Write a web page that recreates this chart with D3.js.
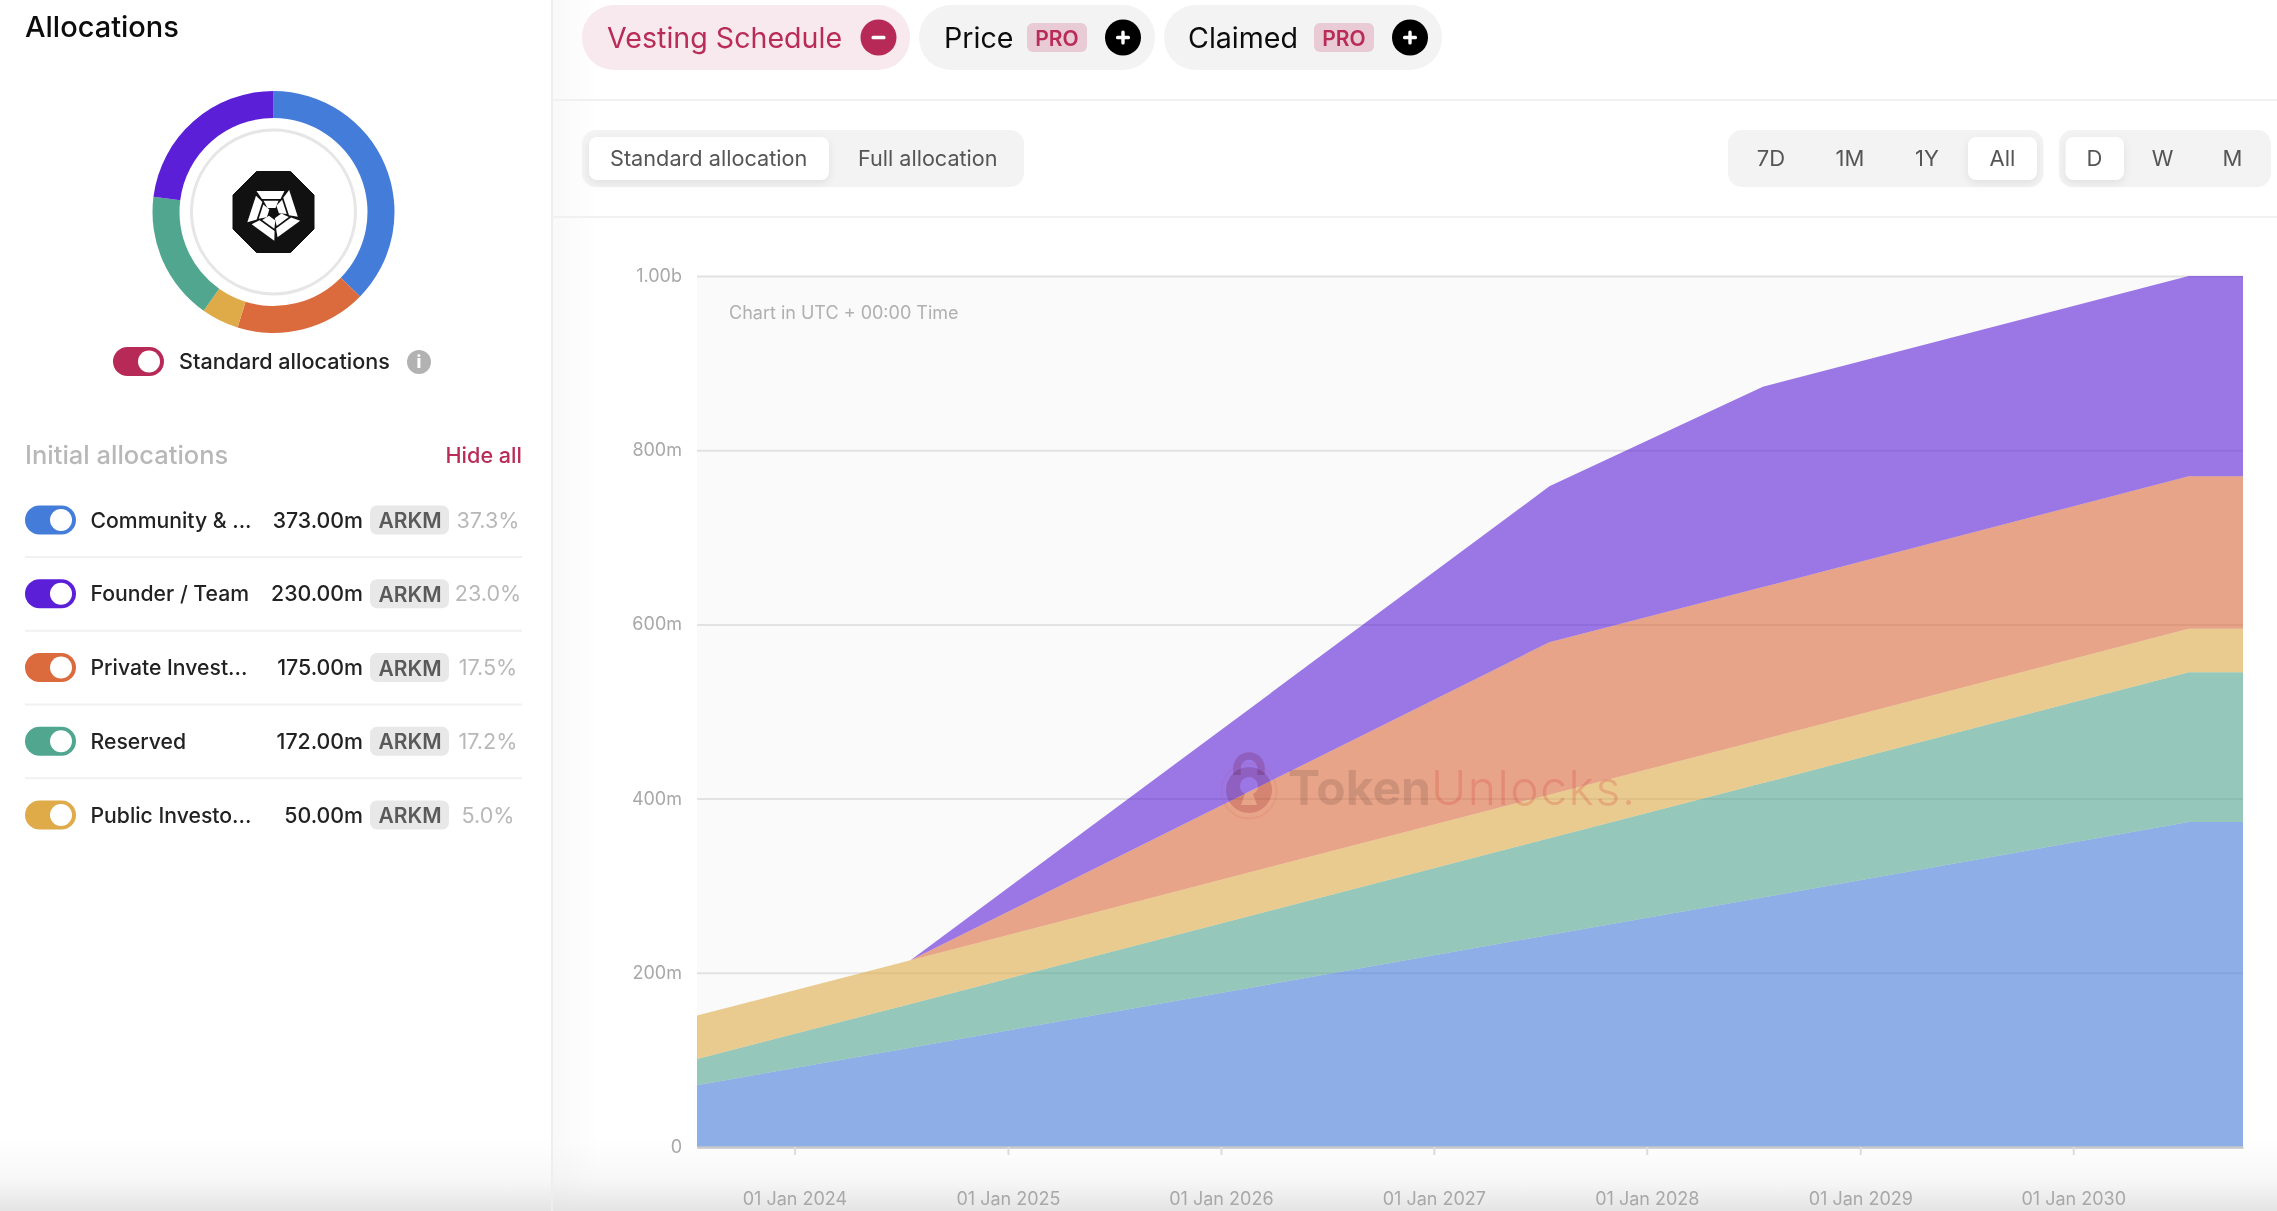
<!DOCTYPE html>
<html>
<head>
<meta charset="utf-8">
<script src="https://cdn.jsdelivr.net/npm/d3@7"></script>
<style>
  html, body { margin: 0; padding: 0; background: #fff; overflow: hidden; }
  svg { display: block; }
  text { font-family: Inter, "Noto Sans", sans-serif; dominant-baseline: central; }
</style>
</head>
<body>
<div id="chart"></div>
<script>
// allocation table
const names = ["Community & ...", "Founder / Team", "Private Invest...", "Reserved", "Public Investo..."];
const amounts = ["373.00m", "230.00m", "175.00m", "172.00m", "50.00m"];
const percents = ["37.3%", "23.0%", "17.5%", "17.2%", "5.0%"];
const colors = ["#447cda", "#5b1fd8", "#db6b3c", "#51a68f", "#dfab48"];

// donut shares, clockwise from the top
const donutNames = ["Community", "Private", "Public", "Reserved", "Founder"];
const donutValues = [373, 175, 50, 172, 230];
const donutColors = ["#447cda", "#db6b3c", "#dfab48", "#51a68f", "#5b1fd8"];

// vesting series, unlocked tokens in millions at each knee of the chart
const dates = ["2023-07-18", "2024-07-18", "2027-07-18", "2028-07-18", "2030-07-18", "2030-10-19"];
const community = [71, 114, 243.5, 286.5, 373, 373];
const reserved = [30, 50.3, 111, 131.3, 172, 172];
const publicInv = [50, 50, 50, 50, 50, 50];
const privateInv = [0, 0, 175, 175, 175, 175];
const founder = [0, 0, 179, 230, 230, 230];

const yTicks = [0, 200, 400, 600, 800, 1000];
const yLabels = ["0", "200m", "400m", "600m", "800m", "1.00b"];
const xTicks = ["2024-01-01", "2025-01-01", "2026-01-01", "2027-01-01", "2028-01-01", "2029-01-01", "2030-01-01"];

const rangeLabels = ["7D", "1M", "1Y", "All"];
const stepLabels = ["D", "W", "M"];

const W = 2277, H = 1211;
const red = "#b92c58";

const svg = d3.select("#chart").append("svg").attr("width", W).attr("height", H);

function label(g, x, y, str, size, weight, color, anchor) {
    return g.append("text")
        .attr("x", x).attr("y", y)
        .attr("font-size", size).attr("font-weight", weight)
        .attr("fill", color).attr("text-anchor", anchor || "start")
        .text(str);
}

function box(g, x0, x1, y0, y1, r, fill) {
    return g.append("rect")
        .attr("x", x0).attr("y", y0)
        .attr("width", x1 - x0).attr("height", y1 - y0)
        .attr("rx", r).attr("fill", fill);
}

// soft shading at the bottom of the window and beside the panel edge
const defs = svg.append("defs");
const side = defs.append("linearGradient").attr("id", "side");
side.append("stop").attr("offset", 0).attr("stop-color", "#f9f9f9");
side.append("stop").attr("offset", 1).attr("stop-color", "#fff");
svg.append("rect").attr("x", 552).attr("y", 0).attr("width", 48).attr("height", H).attr("fill", "url(#side)");

const fade = defs.append("linearGradient").attr("id", "fade").attr("x1", 0).attr("x2", 0).attr("y1", 0).attr("y2", 1);
fade.append("stop").attr("offset", 0).attr("stop-color", "#e6e6e6").attr("stop-opacity", 0);
fade.append("stop").attr("offset", 0.55).attr("stop-color", "#e6e6e6").attr("stop-opacity", 0.3);
fade.append("stop").attr("offset", 1).attr("stop-color", "#e4e4e4").attr("stop-opacity", 1);
svg.append("rect").attr("x", 0).attr("y", 1140).attr("width", W).attr("height", 71).attr("fill", "url(#fade)");

// panel dividers
svg.append("line").attr("x1", 552).attr("x2", 552).attr("y1", 0).attr("y2", H).attr("stroke", "#eeeeee").attr("stroke-width", 2);
[100, 217].forEach(y => {
    svg.append("line").attr("x1", 552).attr("x2", W).attr("y1", y).attr("y2", y).attr("stroke", "#f1f1f1").attr("stroke-width", 2);
});

// left panel
const left = svg.append("g");
label(left, 25, 26, "Allocations", 29, 500, "#0c0c0c");

const pie = d3.pie().sort(null)(donutValues);
const arc = d3.arc().innerRadius(94).outerRadius(121);
const donut = left.append("g").attr("transform", "translate(273.5,212)");
donut.selectAll("path").data(pie).enter().append("path")
    .attr("d", arc)
    .attr("fill", (d, i) => donutColors[i]);
donut.append("circle").attr("r", 82).attr("fill", "none").attr("stroke", "#e6e6e6").attr("stroke-width", 3);

// coin logo
const oct = 40.5, cut = 17;
donut.append("path")
    .attr("d", `M${-cut},${-oct}L${cut},${-oct}L${oct},${-cut}L${oct},${cut}L${cut},${oct}L${-cut},${oct}L${-oct},${cut}L${-oct},${-cut}Z`)
    .attr("fill", "#111111").attr("stroke", "#111111").attr("stroke-width", 1).attr("stroke-linejoin", "round");
d3.range(5).forEach(i => {
    const petal = donut.append("g").attr("transform", `translate(0,1) rotate(${72 * i})`);
    petal.append("polygon").attr("points", "-17,-22 11,-22 7,-14 -11.5,-14").attr("fill", "#fff");
    petal.append("polygon").attr("points", "-10,-12.3 5,-12.3 2,-5 -6,-5").attr("fill", "#fff");
});

function toggle(g, x, y, color) {
    box(g, x, x + 51, y - 14.5, y + 14.5, 14.5, color);
    g.append("circle").attr("cx", x + 36).attr("cy", y).attr("r", 11).attr("fill", "#fff");
}

toggle(left, 113, 361.5, "#b72a57");
label(left, 179, 361, "Standard allocations", 21.6, 500, "#222");
left.append("circle").attr("cx", 419).attr("cy", 362).attr("r", 12).attr("fill", "#b2b2b2");
label(left, 419, 362, "i", 17, 800, "#fff", "middle");

label(left, 25, 454, "Initial allocations", 25.5, 500, "#b8b8b8");
label(left, 522, 454.5, "Hide all", 21.6, 500, red, "end");

const rowY = d3.scalePoint().domain(names).range([520, 815]);
names.forEach((name, i) => {
    const y = rowY(name);
    toggle(left, 25, y, colors[i]);
    label(left, 90.5, y - 0.5, name, 21.2, 500, "#222");
    label(left, 363, y - 0.5, amounts[i], 21.3, 500, "#222", "end");
    box(left, 370, 449, y - 14.5, y + 14.5, 7, "#e8e8e8");
    label(left, 410, y + 0.5, "ARKM", 21, 600, "#5a5a5a", "middle");
    label(left, 488, y - 0.5, percents[i], 21.6, 400, "#b8b8b8", "middle");
    if (i < names.length - 1) {
        left.append("line").attr("x1", 25).attr("x2", 522).attr("y1", y + 37).attr("y2", y + 37)
            .attr("stroke", "#f1f1f1").attr("stroke-width", 2);
    }
});

// top tabs
const tabs = svg.append("g");

function roundButton(g, cx, fill, sign) {
    g.append("circle").attr("cx", cx).attr("cy", 37.5).attr("r", 18).attr("fill", fill);
    g.append("rect").attr("x", cx - 7).attr("y", 35.8).attr("width", 14).attr("height", 3.4).attr("rx", 1.5).attr("fill", "#fff");
    if (sign) g.append("rect").attr("x", cx - 1.7).attr("y", 30.5).attr("width", 3.4).attr("height", 14).attr("rx", 1.5).attr("fill", "#fff");
}

function proBadge(g, x0) {
    box(g, x0, x0 + 60, 23, 52, 6, "#e9cbd6");
    label(g, x0 + 30, 38, "PRO", 21, 600, red, "middle");
}

box(tabs, 582, 910, 5, 70, 32, "#f8e9ee");
label(tabs, 607, 37.5, "Vesting Schedule", 28.6, 400, red);
roundButton(tabs, 878.5, "#b72a57", false);

box(tabs, 919, 1155, 5, 70, 32, "#f3f3f3");
label(tabs, 944, 37.5, "Price", 28.6, 400, "#0c0c0c");
proBadge(tabs, 1027);
roundButton(tabs, 1123, "#000", true);

box(tabs, 1164, 1442, 5, 70, 32, "#f3f3f3");
label(tabs, 1188, 37.5, "Claimed", 28.6, 400, "#0c0c0c");
proBadge(tabs, 1314);
roundButton(tabs, 1410, "#000", true);

// segmented controls
const seg = svg.append("g");
const raised = "drop-shadow(0 3px 4px rgba(0,0,0,0.08))";

box(seg, 582, 1024, 130, 187, 14, "#f3f3f3");
box(seg, 589, 829, 137, 180, 8, "#fff").style("filter", raised);
label(seg, 610, 157.5, "Standard allocation", 21.7, 400, "#555");
label(seg, 858, 157.5, "Full allocation", 21.6, 400, "#555");

box(seg, 1728, 2043.5, 130, 187, 14, "#f3f3f3");
box(seg, 1968, 2037, 137, 180, 8, "#fff").style("filter", raised);
const rangeX = [1771, 1850, 1927, 2002.5];
rangeLabels.forEach((t, i) => label(seg, rangeX[i], 157.5, t, 22, 400, "#555", "middle"));

box(seg, 2059, 2271, 130, 187, 14, "#f3f3f3");
box(seg, 2065.5, 2124, 137, 180, 8, "#fff").style("filter", raised);
const stepX = [2094.5, 2162.5, 2232.5];
stepLabels.forEach((t, i) => label(seg, stepX[i], 157.5, t, 22, 400, "#555", "middle"));

// area chart
const parse = d3.utcParse("%Y-%m-%d");
const rows = dates.map((d, i) => ({
    date: parse(d),
    community: community[i],
    reserved: reserved[i],
    publicInv: publicInv[i],
    privateInv: privateInv[i],
    founder: founder[i]
}));

const stackKeys = ["community", "reserved", "publicInv", "privateInv", "founder"];
const stackColors = ["#447cda", "#51a68f", "#dfab48", "#db6b3c", "#5b1fd8"];

const x = d3.scaleUtc().domain(d3.extent(rows, d => d.date)).range([697, 2243]);
const y = d3.scaleLinear().domain([0, 1000]).range([1147, 276]);

const chart = svg.append("g");
chart.append("rect")
    .attr("x", x.range()[0]).attr("y", y(1000))
    .attr("width", x.range()[1] - x.range()[0]).attr("height", y(0) - y(1000))
    .attr("fill", "#fafafa");

const yAxis = d3.axisLeft(y)
    .tickValues(yTicks)
    .tickFormat((d, i) => yLabels[i])
    .tickSize(x.range()[0] - x.range()[1])
    .tickPadding(15);
const yG = chart.append("g").attr("transform", `translate(${x.range()[0]},0)`).call(yAxis);
yG.select(".domain").remove();
yG.selectAll("line").attr("transform", `translate(${x.range()[1] - x.range()[0]},0)`)
    .attr("x2", x.range()[0] - x.range()[1]).attr("stroke", "#e2e2e2").attr("stroke-width", 2);
yG.selectAll("text").attr("x", -15).attr("font-size", 18).attr("fill", "#a8a8a8").attr("dy", -1);

const series = d3.stack().keys(stackKeys)(rows);
const area = d3.area()
    .x(d => x(d.data.date))
    .y0(d => y(d[0]))
    .y1(d => y(d[1]));

chart.selectAll("path.layer").data(series).enter().append("path")
    .attr("class", "layer")
    .attr("d", area)
    .attr("fill", (d, i) => stackColors[i])
    .attr("fill-opacity", 0.6);

const fmtTick = d3.utcFormat("%d %b %Y");
const xAxis = d3.axisBottom(x)
    .tickValues(xTicks.map(parse))
    .tickFormat(fmtTick)
    .tickSize(8)
    .tickSizeOuter(0)
    .tickPadding(43);
const xG = chart.append("g").attr("transform", `translate(0,${y(0)})`).call(xAxis);
xG.select(".domain").attr("stroke", "#c9c9c9").attr("stroke-width", 2.5);
xG.selectAll("line").attr("stroke", "#dcdcdc").attr("stroke-width", 2);
xG.selectAll("text").attr("font-size", 18).attr("fill", "#a8a8a8").attr("dy", 0);
yG.selectAll("text").style("font-family", "Inter");
xG.selectAll("text").style("font-family", "Inter");

label(chart, 729, 312.5, "Chart in UTC + 00:00 Time", 18, 400, "#b0b0b0");

// watermark
const mark = svg.append("g");
const tint = "#ebced4";
mark.append("path")
    .attr("d", "M1237,775 v-7 a12,12 0 0 1 24,0 v7")
    .attr("fill", "none").attr("stroke", tint).attr("stroke-width", 7.5)
    .style("mix-blend-mode", "multiply");
mark.append("path")
    .attr("fill-rule", "evenodd")
    .attr("d", "M1226,790 a23,23 0 1 0 46,0 a23,23 0 1 0 -46,0 Z M1240,786 a9,9 0 1 1 18,0 a9,9 0 0 1 -5,8 l4,11 h-16 l4,-11 a9,9 0 0 1 -5,-8 Z")
    .attr("fill", tint)
    .style("mix-blend-mode", "multiply");
mark.append("circle").attr("cx", 1249).attr("cy", 791).attr("r", 27.5)
    .attr("fill", "none").attr("stroke", "#d84b3c").attr("stroke-opacity", 0.12).attr("stroke-width", 1.5);
const wm = mark.append("text").attr("x", 1288).attr("y", 787).attr("font-size", 48);
wm.append("tspan").attr("font-weight", 700).attr("fill", "#3a2a2a").attr("fill-opacity", 0.15).text("Token");
wm.append("tspan").attr("font-weight", 300).attr("fill", "#d8403a").attr("fill-opacity", 0.25)
    .attr("letter-spacing", 1.5).text("Unlocks.");
</script>
</body>
</html>
